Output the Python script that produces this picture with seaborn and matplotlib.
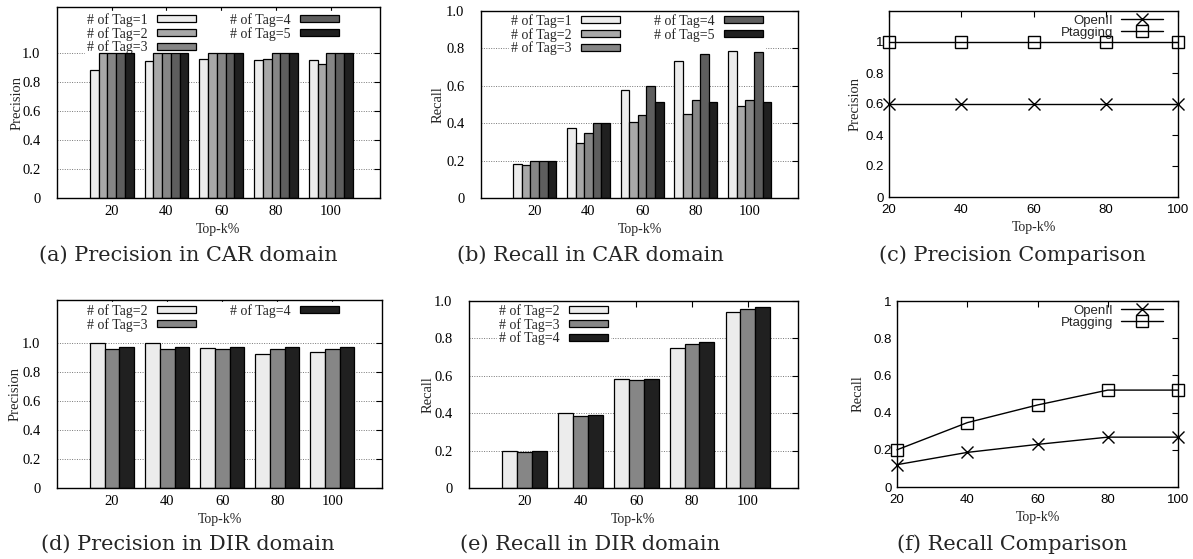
import matplotlib
matplotlib.use("Agg")
import matplotlib.pyplot as plt
import seaborn as sns
import pandas as pd

W, H = 1193, 559

# x categories (Top-k%)
topk = [20, 40, 60, 80, 100]

# (a) Precision in CAR domain
car_prec_tag1 = [0.885, 0.943, 0.955, 0.951, 0.951]
car_prec_tag2 = [1.0, 1.0, 1.0, 0.959, 0.926]
car_prec_tag3 = [1.0, 1.0, 1.0, 1.0, 1.0]
car_prec_tag4 = [1.0, 1.0, 1.0, 1.0, 1.0]
car_prec_tag5 = [1.0, 1.0, 1.0, 1.0, 1.0]

# (b) Recall in CAR domain
car_rec_tag1 = [0.180, 0.377, 0.575, 0.731, 0.788]
car_rec_tag2 = [0.175, 0.296, 0.404, 0.451, 0.490]
car_rec_tag3 = [0.200, 0.349, 0.442, 0.522, 0.522]
car_rec_tag4 = [0.200, 0.400, 0.600, 0.770, 0.782]
car_rec_tag5 = [0.200, 0.400, 0.515, 0.515, 0.515]

# (d) Precision in DIR domain
dir_prec_tag2 = [1.0, 1.0, 0.963, 0.926, 0.938]
dir_prec_tag3 = [0.961, 0.961, 0.961, 0.961, 0.961]
dir_prec_tag4 = [0.970, 0.970, 0.970, 0.970, 0.970]

# (e) Recall in DIR domain
dir_rec_tag2 = [0.200, 0.403, 0.581, 0.746, 0.941]
dir_rec_tag3 = [0.194, 0.387, 0.579, 0.769, 0.959]
dir_rec_tag4 = [0.197, 0.391, 0.584, 0.780, 0.968]

# (c) / (f) comparisons
cmp_prec_openii = [0.6, 0.6, 0.6, 0.6, 0.6]
cmp_prec_ptagging = [1.0, 1.0, 1.0, 1.0, 1.0]
cmp_rec_openii = [0.120, 0.186, 0.229, 0.268, 0.268]
cmp_rec_ptagging = [0.200, 0.346, 0.441, 0.521, 0.521]

bar_yticks = [0, 0.2, 0.4, 0.6, 0.8, 1.0]
bar_yticklabels = ["0", "0.2", "0.4", "0.6", "0.8", "1.0"]
line_yticklabels = ["0", "0.2", "0.4", "0.6", "0.8", "1"]

sns.set_style("white")
plt.rcParams["font.family"] = ["Liberation Serif", "DejaVu Serif"]
plt.rcParams["axes.edgecolor"] = "black"
plt.rcParams["axes.linewidth"] = 1.0

SERIF = "Liberation Serif"
SANS = "Liberation Sans"
CAPTION = "DejaVu Serif"

fig = plt.figure(figsize=(W / 100, H / 100), dpi=100)


def px_axes(l, t, r, b):
    return fig.add_axes([l / W, 1 - b / H, (r - l) / W, (b - t) / H])


def long_df(series):
    rows = []
    for name, vals in series.items():
        for k, v in zip(topk, vals):
            rows.append({"k": str(k), "v": v, "tag": name})
    return pd.DataFrame(rows)


def bar_panel(box, series, colors, ytop, ncol, leg_dx, leg_dy, ylabel, ylab_x):
    l, t, r, b = box
    ax = px_axes(*box)
    df = long_df(series)
    sns.barplot(data=df, x="k", y="v", hue="tag", palette=colors, width=0.8,
                gap=0, saturation=1, edgecolor="black", linewidth=0.9,
                errorbar=None, ax=ax)
    ax.set_xlim(-1, 4.9)
    ax.set_ylim(0, ytop)
    ax.set_yticks(bar_yticks)
    ax.set_yticklabels(bar_yticklabels)
    ax.set_xlabel("")
    ax.set_ylabel("")
    ax.yaxis.grid(True, linestyle=(0, (1, 1.5)), color="#777777", linewidth=0.7)
    ax.set_axisbelow(True)
    ax.tick_params(direction="in", top=True, right=True, length=4, width=0.8,
                   labelsize=10.5, pad=5, colors="black")
    for lbl in ax.get_xticklabels() + ax.get_yticklabels():
        lbl.set_fontfamily(SERIF)
    ax.tick_params(axis="y", pad=12)

    leg = ax.get_legend()
    handles = leg.legend_handles
    labels = [tx.get_text() for tx in leg.get_texts()]
    leg.remove()
    for h in handles:
        h.set_edgecolor("black")
        h.set_linewidth(0.9)
    w, hgt = r - l, b - t
    lg = ax.legend(handles, labels, loc="upper left", ncol=ncol,
                   bbox_to_anchor=(leg_dx / w, 1 - leg_dy / hgt),
                   markerfirst=False, frameon=True, framealpha=1,
                   facecolor="white", edgecolor="white", fancybox=False,
                   borderpad=0.15, borderaxespad=0, labelspacing=0.0,
                   handlelength=2.8, handleheight=0.4, handletextpad=0.7,
                   columnspacing=2.4, prop={"family": SERIF, "size": 10})
    lg.set_zorder(0.8)
    fig.text(ylab_x / W, 1 - ((t + b) / 2) / H, ylabel, rotation=90,
             ha="center", va="center", family=SERIF, fontsize=10.5)
    fig.text(((l + r) / 2) / W, 1 - (b + 31) / H, "Top-k%", ha="center",
             va="center", family=SERIF, fontsize=10)
    return ax


def line_panel(box, openii, ptagging, ytop, ylabel, ylab_x):
    l, t, r, b = box
    ax = px_axes(*box)
    sns.lineplot(x=topk, y=openii, color="black", linewidth=1.0, marker="x",
                 markersize=8, markeredgewidth=1.0, markeredgecolor="black",
                 label="OpenII", ax=ax)
    sns.lineplot(x=topk, y=ptagging, color="black", linewidth=1.0, marker="s",
                 markersize=8, markeredgewidth=1.0, markeredgecolor="black",
                 markerfacecolor="none", label="Ptagging", ax=ax)
    for ln in ax.lines:
        ln.set_clip_on(False)
    ax.set_xlim(20, 100)
    ax.set_ylim(0, ytop)
    ax.set_xticks(topk)
    ax.set_yticks(bar_yticks)
    ax.set_yticklabels(line_yticklabels)
    ax.set_xlabel("")
    ax.set_ylabel("")
    ax.tick_params(direction="in", top=True, right=True, length=4, width=0.8,
                   labelsize=9.5, pad=5, colors="black")
    for lbl in ax.get_xticklabels() + ax.get_yticklabels():
        lbl.set_fontfamily(SANS)
    ax.tick_params(axis="y", pad=4)
    ax.legend(loc="upper right", bbox_to_anchor=(1 - 12 / (r - l), 1 - 1 / (b - t)),
              markerfirst=False, frameon=False, borderpad=0.2, borderaxespad=0,
              labelspacing=0.0, handlelength=3.2, handletextpad=0.6,
              prop={"family": SANS, "size": 9.5})
    fig.text(ylab_x / W, 1 - ((t + b) / 2) / H, ylabel, rotation=90,
             ha="center", va="center", family=SERIF, fontsize=10.5)
    fig.text(((l + r) / 2) / W, 1 - (b + 31) / H, "Top-k%", ha="center",
             va="center", family=SERIF, fontsize=10)
    return ax


five_colors = ["#ececec", "#a8a8a8", "#868686", "#5e5e5e", "#202020"]
three_colors = ["#ececec", "#868686", "#202020"]

bar_panel((57, 7, 380, 198),
          {"# of Tag=1": car_prec_tag1, "# of Tag=2": car_prec_tag2,
           "# of Tag=3": car_prec_tag3, "# of Tag=4": car_prec_tag4,
           "# of Tag=5": car_prec_tag5},
          five_colors, 1.317, 2, 28, 4, "Precision", 17)

bar_panel((481, 11, 798, 198),
          {"# of Tag=1": car_rec_tag1, "# of Tag=2": car_rec_tag2,
           "# of Tag=3": car_rec_tag3, "# of Tag=4": car_rec_tag4,
           "# of Tag=5": car_rec_tag5},
          five_colors, 1.0, 2, 28, 1, "Recall", 438)

line_panel((889, 11, 1178, 197), cmp_prec_openii, cmp_prec_ptagging, 1.2,
           "Precision", 855)

bar_panel((57, 300, 382, 488),
          {"# of Tag=2": dir_prec_tag2, "# of Tag=3": dir_prec_tag3,
           "# of Tag=4": dir_prec_tag4},
          three_colors, 1.297, 2, 28, 2, "Precision", 15)

bar_panel((469, 301, 798, 488),
          {"# of Tag=2": dir_rec_tag2, "# of Tag=3": dir_rec_tag3,
           "# of Tag=4": dir_rec_tag4},
          three_colors, 1.0, 1, 28, 1, "Recall", 428)

line_panel((897, 301, 1178, 487), cmp_rec_openii, cmp_rec_ptagging, 1.0,
           "Recall", 858)

captions = [("(a) Precision in CAR domain", 188, 255),
            ("(b) Recall in CAR domain", 590, 255),
            ("(c) Precision Comparison", 1012, 255),
            ("(d) Precision in DIR domain", 188, 544),
            ("(e) Recall in DIR domain", 590, 544),
            ("(f) Recall Comparison", 1012, 544)]
for txt, cx, cy in captions:
    fig.text(cx / W, 1 - cy / H, txt, ha="center", va="center",
             family=CAPTION, fontsize=15)

fig.savefig("out.png", dpi=100)
